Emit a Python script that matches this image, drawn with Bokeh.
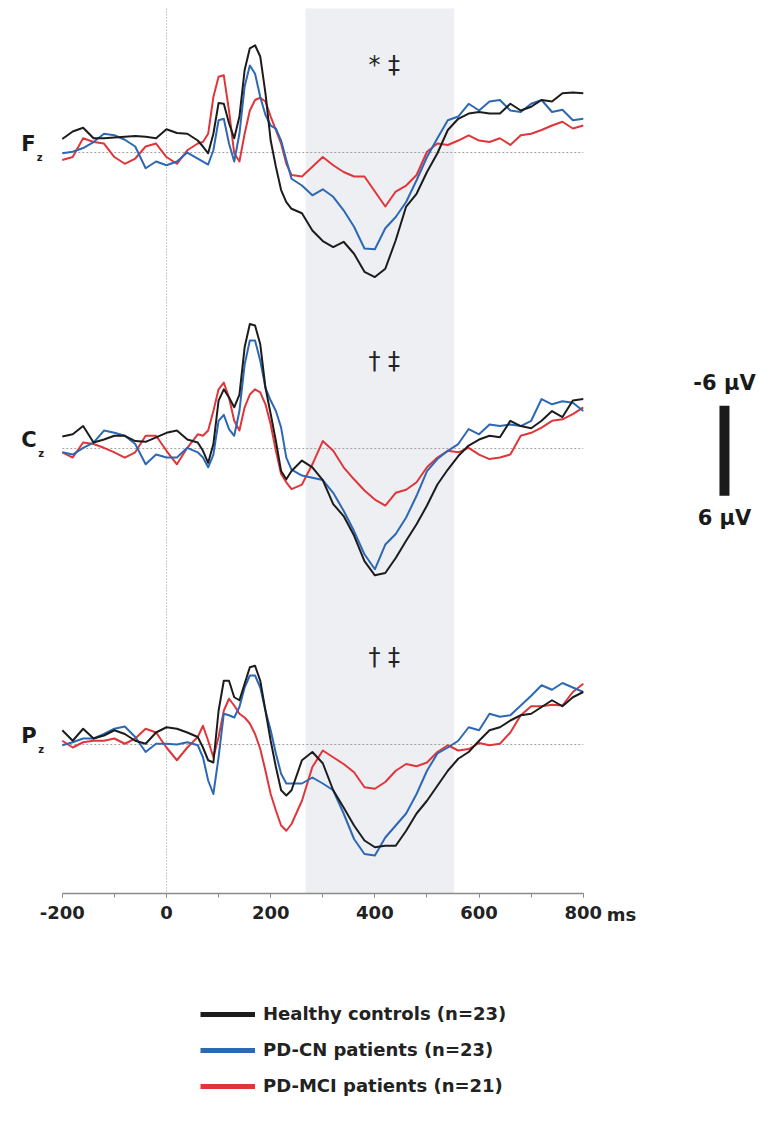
import numpy as np
from bokeh.plotting import figure
from bokeh.models import (Range1d, LinearAxis, SingleIntervalTicker, BoxAnnotation,
                          Legend, LegendItem, ColumnDataSource, Grid)
from bokeh.core.properties import value
from bokeh.transform import dodge
from bokeh.embed import file_html
from bokeh.resources import INLINE

# ---------------- data (µV, negative plotted upward) ----------------
time_ms = [-200, -180, -160, -140, -120, -100, -80, -60, -40, -20, 0, 20, 40, 60,
           70, 80, 90, 100, 110, 120, 130, 140, 150, 160, 170, 180, 190, 200, 210, 220, 230, 240,
           260, 280, 300, 320, 340, 360, 380, 400, 420, 440, 460, 480, 500, 520, 540, 560, 580,
           600, 620, 640, 660, 680, 700, 720, 740, 760, 780, 800]

fz_hc = [-1.8, -2.8, -3.3, -1.9, -1.9, -2.0, -2.1, -2.2, -2.1, -1.9, -3.1, -2.6, -2.5, -1.6,
         -0.8, 0.1, -2.5, -6.6, -6.5, -3.9, -1.9, -4.8, -11.0, -13.9, -14.3, -12.8, -7.9, -1.6, 1.9, 5.0, 6.6, 7.5,
         8.1, 10.4, 11.8, 12.6, 11.9, 13.5, 15.9, 16.6, 15.5, 11.7, 7.2, 5.5, 2.6, 0.1, -3.0, -4.5, -5.2,
         -5.4, -5.2, -5.2, -6.5, -5.6, -6.1, -7.0, -6.8, -7.9, -8.0, -7.9]
fz_cn = [0.1, -0.1, -0.6, -1.4, -2.5, -2.3, -1.7, -0.8, 2.1, 1.2, 1.7, 1.2, 0.0, 0.8,
         1.2, 1.6, -0.3, -4.3, -4.5, -1.2, 1.2, -2.5, -8.8, -11.6, -10.5, -7.4, -5.0, -3.6, -3.2, -1.6, 1.0, 3.5,
         4.4, 5.7, 4.9, 5.9, 7.7, 9.9, 12.8, 12.9, 10.1, 8.6, 6.6, 3.7, 0.6, -1.9, -4.3, -4.8, -6.5,
         -5.6, -6.8, -7.0, -5.6, -5.4, -6.5, -7.0, -5.4, -5.7, -4.3, -4.5]
fz_mci = [1.0, 0.6, -1.9, -1.4, -1.2, 0.6, 1.5, 0.8, -0.8, -1.2, 0.6, 1.5, -0.3, -1.2,
          -1.4, -2.5, -7.4, -10.1, -10.3, -5.6, 0.1, 1.2, -2.5, -5.6, -7.0, -7.3, -6.8, -4.8, -3.0, -1.2, 1.5, 3.0,
          3.2, 1.9, 0.6, 1.7, 2.6, 3.2, 3.2, 5.2, 7.2, 5.2, 4.4, 3.0, -0.1, -1.2, -1.0, -1.6, -2.3,
          -1.6, -1.4, -1.9, -1.0, -2.3, -2.5, -3.0, -3.6, -4.1, -3.2, -3.6]

cz_hc = [-1.6, -1.9, -3.0, -0.8, -1.2, -1.7, -1.7, -1.0, -0.9, -1.5, -2.1, -2.4, -1.2, -0.8,
         0.3, 1.9, -0.6, -6.4, -7.9, -6.8, -5.5, -7.2, -13.5, -16.6, -16.4, -13.9, -8.1, -4.6, -1.0, 3.0, 4.1, 3.0,
         1.6, 2.5, 4.2, 7.4, 9.0, 11.6, 15.0, 16.9, 16.6, 14.6, 12.3, 10.1, 7.6, 4.8, 2.8, 1.0, -0.4,
         -1.2, -1.7, -1.5, -3.7, -3.0, -2.7, -3.7, -5.0, -4.2, -6.4, -6.6]
cz_cn = [0.5, 0.8, -0.1, -0.8, -2.4, -2.1, -1.7, -0.6, 2.1, 0.8, 1.2, 1.2, -0.1, 0.5,
         1.2, 2.5, 0.8, -3.7, -4.5, -2.6, -1.7, -5.0, -11.2, -14.4, -14.4, -11.7, -8.1, -6.4, -5.0, -2.8, 1.2, 2.8,
         3.6, 3.9, 4.2, 5.9, 8.3, 11.0, 14.1, 16.1, 12.8, 11.4, 9.2, 6.3, 3.0, 1.4, 0.3, -0.6, -2.6,
         -1.9, -3.2, -3.0, -3.2, -3.0, -3.7, -6.6, -5.9, -6.3, -6.1, -5.0]
cz_mci = [0.5, 1.2, -0.8, -0.6, -0.1, 0.5, 1.2, 0.5, -1.7, -1.7, 0.3, 2.1, -0.1, -1.9,
          -1.7, -2.4, -5.0, -7.9, -8.8, -6.8, -3.7, -2.4, -5.5, -7.2, -7.9, -7.5, -5.9, -3.2, 0.3, 3.4, 4.5, 5.4,
          4.8, 2.1, -1.0, 0.3, 2.5, 4.1, 5.6, 6.8, 7.6, 5.9, 5.5, 4.5, 2.5, 1.2, 0.3, 0.5, -0.1,
          0.8, 1.4, 1.2, 0.8, -1.7, -2.1, -2.8, -3.7, -3.9, -4.6, -5.5]

pz_hc = [-1.9, -0.5, -2.1, -0.8, -1.2, -1.9, -1.4, -0.5, -0.1, -1.6, -2.3, -2.1, -1.6, -1.0,
         0.4, 2.1, 2.4, -4.5, -8.5, -8.5, -6.3, -5.9, -8.1, -10.3, -10.5, -8.5, -4.5, -0.5, 3.0, 6.1, 6.8, 6.1,
         2.1, 1.0, 2.5, 6.1, 8.4, 10.8, 12.8, 13.7, 13.5, 13.5, 11.5, 9.2, 7.5, 5.5, 3.5, 1.9, 1.0,
         -0.5, -1.9, -2.3, -3.2, -3.9, -4.1, -5.0, -5.9, -5.1, -6.3, -7.0]
pz_cn = [0.1, -0.3, -0.8, -0.8, -1.4, -2.1, -2.4, -1.0, 1.0, -0.1, -0.1, 0.0, -0.3, 0.1,
         1.7, 4.8, 6.6, 1.7, -4.1, -3.9, -3.6, -5.0, -7.6, -9.2, -9.2, -7.6, -4.5, -1.9, 1.2, 3.9, 5.2, 5.2,
         5.2, 4.4, 5.2, 6.1, 9.2, 12.6, 14.6, 14.8, 12.4, 10.8, 9.2, 6.6, 3.5, 1.2, 0.4, -0.5, -2.3,
         -1.9, -4.1, -3.7, -3.9, -5.2, -6.5, -7.9, -7.3, -8.2, -7.6, -7.0]
pz_mci = [-0.5, 0.4, -0.3, -0.5, -0.5, -0.8, -0.1, -0.8, -2.1, -1.6, 0.4, 2.1, 0.4, -1.0,
          -2.5, -0.5, 1.7, -1.0, -4.5, -6.1, -5.2, -4.1, -3.6, -2.8, -1.4, 0.6, 3.5, 6.6, 8.8, 10.8, 11.5, 10.6,
          7.5, 3.0, 0.8, 1.7, 2.6, 3.7, 5.7, 5.9, 5.0, 3.5, 2.6, 2.9, 2.4, 1.0, 0.1, 0.8, 0.6,
          -0.2, 0.1, -0.1, -1.6, -3.9, -5.1, -5.1, -5.3, -5.2, -7.0, -8.1]

channels = ["F", "C", "P"]
channel_sub = ["z", "z", "z"]
channel_marks = ["* \u2021", "\u2020 \u2021", "\u2020 \u2021"]
groups = ["Healthy controls (n=23)", "PD-CN patients (n=23)", "PD-MCI patients (n=21)"]
window_ms = [267, 552]
x_ticks = [-200, 0, 200, 400, 600, 800]
x_tick_labels = ["-200", "0", "200", "400", "600", "800"]

# ---------------- layout / style constants ----------------
OFFSETS = [0.0, 39.47, 78.93]          # vertical stacking of channels (µV units)
COLORS = ["#1c1c1c", "#2c68b4", "#e0363a"]
FONT = "DejaVu Sans"

p = figure(width=762, height=1122, output_backend="svg", toolbar_location=None,
           x_axis_location=None, y_axis_location=None,
           x_range=Range1d(-318.6, 1144.0), y_range=Range1d(129.33, -20.27),
           min_border=0, outline_line_color=None, background_fill_color="white",
           border_fill_color="white")
p.renderers = [r for r in p.renderers if not isinstance(r, Grid)]
for g in p.grid:
    g.visible = False

# analysis window shading
p.add_layout(BoxAnnotation(left=window_ms[0], right=window_ms[1], top=-19.2, bottom=98.8,
                           fill_color="#eeeff3", fill_alpha=1.0, line_color=None, level="underlay"))
# stimulus onset
p.segment(x0=[0], y0=[-19.2], x1=[0], y1=[98.8], line_color="#9a9a9a", line_width=1, line_dash="1 2")

data = {
    "t": time_ms,
    "F0": fz_hc, "F1": fz_cn, "F2": fz_mci,
    "C0": cz_hc, "C1": cz_cn, "C2": cz_mci,
    "P0": pz_hc, "P1": pz_cn, "P2": pz_mci,
}
src = ColumnDataSource(data)

for ci, ch in enumerate(channels):
    off = OFFSETS[ci]
    # baseline
    p.segment(x0=[-200], y0=[off], x1=[800], y1=[off], line_color="#8c8c8c", line_width=0.8, line_dash="2 2")
    for gi in [2, 1, 0]:
        p.line("t", dodge(f"{ch}{gi}", off), source=src, line_color=COLORS[gi], line_width=2.0,
               line_join="round")
    # channel label
    p.text(x=[-279], y=[off - 1.2], text=[ch], text_font=value(FONT), text_font_style="bold",
           text_font_size="21px", text_align="left", text_baseline="middle", text_color="#1a1a1a")
    p.text(x=[-249 if ch == "F" else -246], y=[off + 0.6], text=[channel_sub[ci]], text_font=value(FONT),
           text_font_style="bold", text_font_size="10px", text_align="left", text_baseline="middle",
           text_color="#1a1a1a")
    # significance marks
    p.text(x=[418], y=[off - 11.7], text=[channel_marks[ci]], text_font=value(FONT),
           text_font_size="24px", text_align="center", text_baseline="middle", text_color="#222222")

# scale bar
cz = OFFSETS[1]
p.segment(x0=[1071], y0=[cz + 0.3 - 6], x1=[1071], y1=[cz + 0.3 + 6], line_color="#1a1a1a",
          line_width=10, line_cap="butt")
p.text(x=[1071, 1071], y=[cz - 8.7, cz + 9.3], text=["-6 \u00b5V", "6 \u00b5V"], text_font=value(FONT),
       text_font_style="bold", text_font_size="21px", text_align="center", text_baseline="middle",
       text_color="#1a1a1a")

# x axis drawn at the bottom of the Pz panel
xaxis = LinearAxis(fixed_location=98.8, bounds=(-200, 800),
                   ticker=SingleIntervalTicker(interval=200, num_minor_ticks=2))
xaxis.major_label_overrides = {t: s for t, s in zip(x_ticks, x_tick_labels)}
xaxis.axis_line_color = "#8a8a8a"
xaxis.axis_line_width = 1.5
xaxis.major_tick_line_color = "#8a8a8a"
xaxis.minor_tick_line_color = "#8a8a8a"
xaxis.major_tick_in = 0
xaxis.major_tick_out = 4
xaxis.minor_tick_in = 0
xaxis.minor_tick_out = 4
xaxis.major_label_text_font = FONT
xaxis.major_label_text_font_style = "bold"
xaxis.major_label_text_font_size = "18px"
xaxis.major_label_text_color = "#222222"
xaxis.major_label_standoff = 8
p.add_layout(xaxis, "below")
p.text(x=[845], y=[101.6], text=["ms"], text_font=value(FONT), text_font_style="bold",
       text_font_size="18px", text_align="left", text_baseline="middle", text_color="#222222")

# legend with thick proxy lines (their data lie outside the visible ranges)
proxies = [p.line(x=[5000, 5001], y=[500, 500], line_color=COLORS[i], line_width=5) for i in range(3)]
legend = Legend(items=[LegendItem(label=groups[i], renderers=[proxies[i]]) for i in range(3)],
                location=(200, 26), orientation="vertical", glyph_width=55, glyph_height=20,
                label_height=20, spacing=15, padding=0, margin=0, border_line_color=None,
                background_fill_alpha=0, label_text_font=FONT, label_text_font_style="bold",
                label_text_font_size="18px", label_text_color="#222222", label_standoff=8)
p.add_layout(legend)

open("out.html", "w").write(file_html(p, INLINE))
